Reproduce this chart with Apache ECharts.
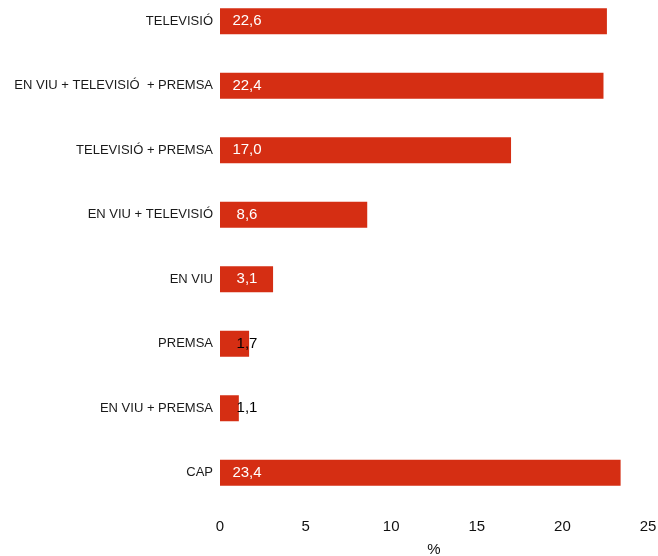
<!DOCTYPE html>
<html>
<head>
<meta charset="utf-8">
<script src="https://cdn.jsdelivr.net/npm/echarts@6/dist/echarts.min.js"></script>
<style>
html,body{margin:0;padding:0;background:#fff;overflow:hidden;}
#chart{position:absolute;left:0;top:-11px;width:658px;height:567px;}
</style>
</head>
<body>
<div id="chart"></div>
<script>
const categories = ['TELEVISIÓ', 'EN VIU + TELEVISIÓ  + PREMSA', 'TELEVISIÓ + PREMSA', 'EN VIU + TELEVISIÓ', 'EN VIU', 'PREMSA', 'EN VIU + PREMSA', 'CAP'];
const values = [22.6, 22.4, 17.0, 8.6, 3.1, 1.7, 1.1, 23.4];
const xTicks = [0, 5, 10, 15, 20, 25];

const chart = echarts.init(document.getElementById('chart'));
const FONT = '"Liberation Sans", Arial, sans-serif';
chart.setOption({
  animation: false,
  backgroundColor: '#fff',
  grid: { left: 220, right: 10, top: 0, bottom: 51, containLabel: false, outerBoundsMode: 'none' },
  xAxis: {
    type: 'value',
    min: xTicks[0],
    max: xTicks[xTicks.length - 1],
    interval: 5,
    axisLine: { show: false },
    axisTick: { show: false },
    splitLine: { show: false },
    axisLabel: { fontSize: 15, color: '#111', fontFamily: FONT, margin: 14 },
    name: '%',
    nameLocation: 'middle',
    nameGap: 37,
    nameTextStyle: { fontSize: 15, color: '#111', fontFamily: FONT }
  },
  yAxis: {
    type: 'category',
    data: categories,
    inverse: true,
    axisLine: { show: false },
    axisTick: { show: false },
    axisLabel: { fontSize: 13, color: '#1a1a1a', fontFamily: FONT, margin: 7 }
  },
  series: [{
    type: 'bar',
    barWidth: 26,
    data: values.map(v => ({
      value: v,
      label: { color: v < 2 ? '#000' : '#fff' }
    })),
    itemStyle: { color: '#D52E13' },
    label: {
      show: true,
      position: [27, '50%'],
      align: 'center',
      verticalAlign: 'middle',
      fontSize: 15,
      fontFamily: FONT,
      formatter: p => p.value.toFixed(1).replace('.', ',')
    }
  }]
});
</script>
</body>
</html>
